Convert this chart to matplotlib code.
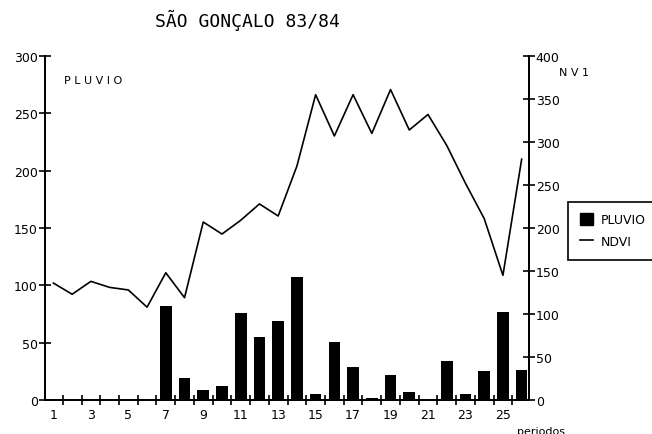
import matplotlib
matplotlib.use('Agg')
import matplotlib.pyplot as plt
from matplotlib.patches import Patch
from matplotlib.lines import Line2D
import numpy as np

# periods 1..26 of the 83/84 season
periodos = list(range(1, 27))
pluvio = [0, 0, 0, 0, 0, 0, 82, 19, 9, 12, 76, 55, 69, 107, 5, 51,
          29, 2, 22, 7, 0, 34, 5, 25, 77, 26]
ndvi = [136, 123, 138, 131, 128, 108, 148, 119, 207, 193, 209, 228, 214,
        272, 355, 307, 355, 310, 361, 314, 332, 296, 252, 211, 145, 280]
tick_labels = [str(p) for p in range(1, 26, 2)]

fig = plt.figure(figsize=(6.52, 4.35), dpi=100)
ax = fig.add_axes([0.069, 0.078, 0.742, 0.791])
ax2 = ax.twinx()

ax.bar(periodos, pluvio, width=0.62, color='black', zorder=2)
ax2.plot(periodos, ndvi, color='black', lw=1.2)

ax.set_xlim(0.55, 26.38)
ax.set_ylim(0, 300)
ax2.set_ylim(0, 400)

for a in (ax, ax2):
    a.spines['top'].set_visible(False)
    for s in a.spines.values():
        s.set_linewidth(1.3)

ax.set_yticks(range(0, 301, 50))
ax2.set_yticks(range(0, 401, 50))
ax.set_xticks(range(1, 26, 2))
ax.set_xticklabels(tick_labels)
ax.set_xticks(np.arange(1.5, 26, 1), minor=True)
ax.tick_params(axis='x', which='major', length=0, labelsize=9, pad=6)
ax.tick_params(axis='x', which='minor', direction='inout', length=7, width=1.2)
ax.tick_params(axis='y', direction='inout', length=8, width=1.2,
               labelsize=9, pad=1)
ax2.tick_params(axis='y', direction='inout', length=8, width=1.2,
                labelsize=9, pad=1)

ax.text(0.04, 0.93, 'P L U V I O', transform=ax.transAxes, fontsize=8,
        va='center', ha='left')
fig.text(0.858, 0.832, 'N V 1', fontsize=8, va='center', ha='left')
fig.text(0.238, 0.952, 'SÃO GONÇALO 83/84', fontsize=13,
         family='DejaVu Sans Mono', va='center', ha='left')
fig.text(0.83, 0.008, 'periodos', fontsize=8, va='center', ha='center')

handles = [Patch(facecolor='black', edgecolor='black', label='PLUVIO'),
           Line2D([0], [0], color='black', lw=1.2, label='NDVI')]
leg = fig.legend(handles=handles, loc='upper left',
                 bbox_to_anchor=(0.862, 0.548), fontsize=9,
                 fancybox=False, edgecolor='black', framealpha=1,
                 handlelength=1.1, handleheight=1.1, handletextpad=0.6,
                 borderpad=0.9, labelspacing=0.7)
leg.get_frame().set_linewidth(1.2)

plt.savefig('out.png', dpi=100)
